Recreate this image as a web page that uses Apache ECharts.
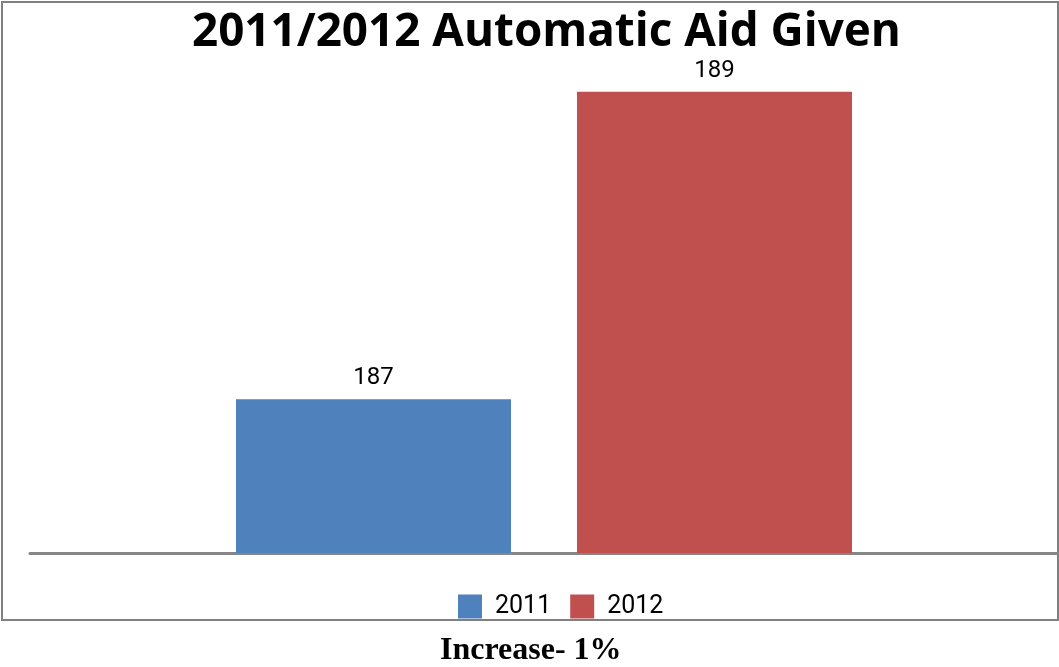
<!DOCTYPE html>
<html><head><meta charset="utf-8">
<script src="https://cdn.jsdelivr.net/npm/echarts@6/dist/echarts.min.js"></script>
<style>html,body{margin:0;padding:0;background:#fff}#c{width:1059px;height:667px}</style>
</head><body><div id="c"></div>
<script>
const categories = ['Automatic Aid'];
const seriesNames = ['2011', '2012'];
const values2011 = [187];
const values2012 = [189];
const titleText = '2011/2012 Automatic Aid Given';
const footnote = 'Increase- 1%';

const chart = echarts.init(document.getElementById('c'));
const labelStyle = { show: true, position: 'top', distance: 9, color: '#000', fontSize: 24, fontFamily: 'Roboto' };
chart.setOption({
  animation: false,
  title: { text: titleText, left: 187, top: 5,
    textStyle: { fontFamily: 'Open Sans', fontWeight: 'bold', fontSize: 45.8, color: '#000' } },
  legend: { bottom: 43, left: 453, itemWidth: 24, itemHeight: 24, itemGap: 19, icon: 'rect',
    textStyle: { fontFamily: 'Roboto', fontSize: 25, color: '#000', padding: [0,0,0,8] },
    data: seriesNames },
  grid: { left: 30, right: 1, top: 61, bottom: 114 },
  xAxis: { type: 'category', data: categories,
    axisLine: { lineStyle: { color: '#868686', width: 3 } },
    axisTick: { show: false }, axisLabel: { show: false } },
  yAxis: { type: 'value', min: 186, max: 189.2, show: false, splitLine: { show: false } },
  series: [
    { name: seriesNames[0], type: 'bar', data: values2011, barWidth: 275, barGap: '24%',
      itemStyle: { color: '#4F81BD' }, label: labelStyle },
    { name: seriesNames[1], type: 'bar', data: values2012, barWidth: 275,
      itemStyle: { color: '#C0504D' }, label: labelStyle }
  ],
  graphic: [
    { type: 'rect', shape: { x: 2, y: 2, width: 1056, height: 618 }, silent: true, z: -1,
      style: { fill: 'none', stroke: '#808080', lineWidth: 2 } },
    { type: 'text', left: 440, top: 635,
      style: { text: footnote, fontFamily: 'Liberation Serif', fontWeight: 'bold', fontSize: 32, fill: '#000' } }
  ]
});
</script></body></html>
